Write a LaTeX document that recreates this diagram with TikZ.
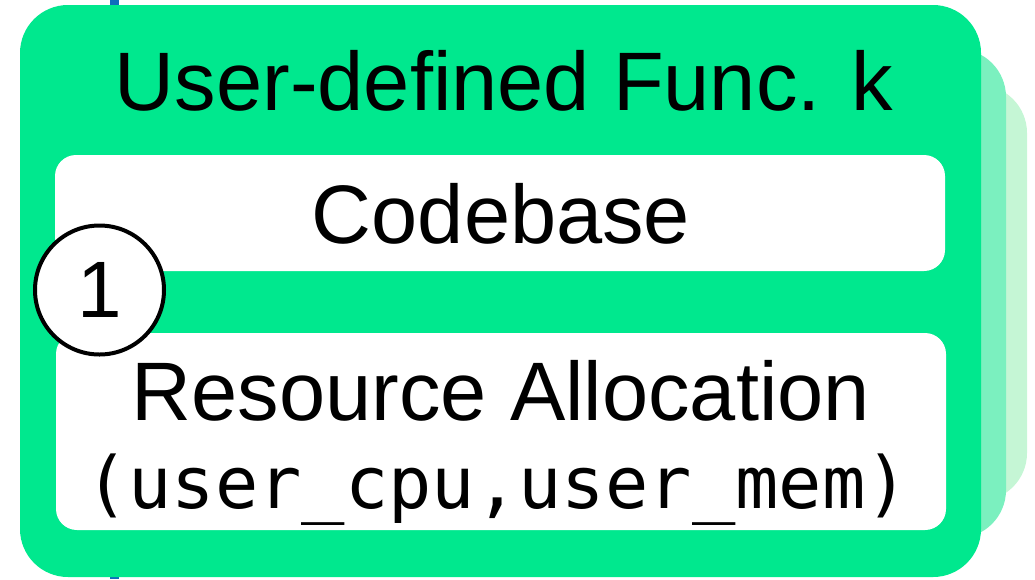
\documentclass[tikz,border=0pt]{standalone}
\usepackage{fontspec}
\setmainfont{Liberation Sans}
\newfontfamily\codefont{DejaVu Sans Mono}
\definecolor{cardgreen}{HTML}{00E88E}
\definecolor{cardmid}{HTML}{7BF0BF}
\definecolor{cardback}{HTML}{C5F6D5}
\definecolor{wireblue}{HTML}{0F6CBD}
\tikzset{
  card/.style={rounded corners=48pt},
  slot/.style={fill=white, rounded corners=21pt},
  label/.style={anchor=base, inner sep=0pt, font=\fontsize{83}{96}\selectfont},
  codelabel/.style={anchor=base, inner sep=0pt, font=\codefont\fontsize{72}{80}\selectfont},
  stepmark/.style={circle, draw=black, line width=4pt, fill=white, minimum size=129pt, inner sep=0pt}
}
\begin{document}
\begin{tikzpicture}[x=1pt, y=-1pt]
  \useasboundingbox (0,0) rectangle (1035,579);
  % wire passing behind the stack
  \coordinate (wiretop) at (114,0);
  \coordinate (wirebot) at (114,579);
  \draw[wireblue, line width=9pt] (wiretop) -- (wirebot);
  % stacked copies of the function card
  \fill[cardback, card] (70,85) rectangle (1027,501);
  \fill[cardmid, card] (45,49) rectangle (1006,538);
  \fill[cardgreen, card] (20,5) rectangle (981,577);
  % inner slots
  \fill[slot] (55,155) rectangle (945,271);
  \fill[slot] (56,333) rectangle (946,530);
  % texts
  \node[label] (title) at (504,110) {User-defined Func. k};
  \node[label] (code) at (501,243) {Codebase};
  \node[label] (res) at (501,420) {Resource Allocation};
  \node[codelabel] (alloc) at (497,508) {(user\_cpu,user\_mem)};
  % step marker
  \node[stepmark, font=\fontsize{80}{90}\selectfont] (one) at (99.5,290) {1};
\end{tikzpicture}
\end{document}
